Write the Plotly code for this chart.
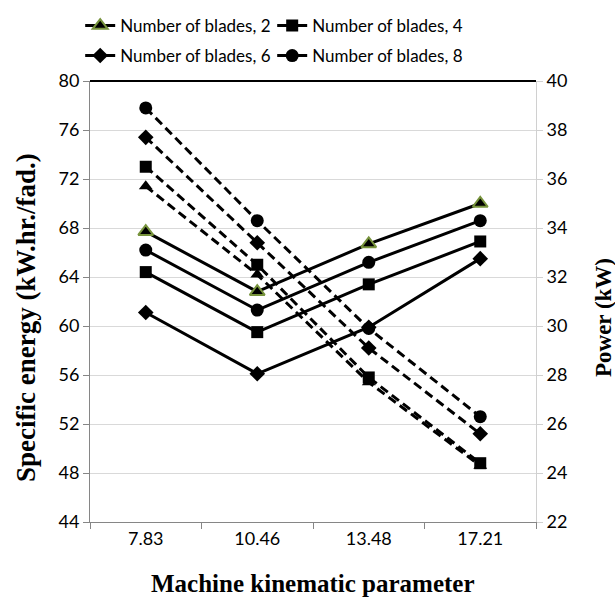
import plotly.graph_objects as go

categories = ["7.83", "10.46", "13.48", "17.21"]

# Specific energy (left axis, solid lines)
energy_b2 = [67.7, 62.8, 66.7, 70.0]
energy_b4 = [64.4, 59.5, 63.4, 66.9]
energy_b6 = [61.1, 56.1, 59.9, 65.5]
energy_b8 = [66.2, 61.3, 65.2, 68.6]

# Power (right axis, dashed lines)
power_b2 = [35.7, 32.1, 27.7, 24.3]
power_b4 = [36.5, 32.5, 27.9, 24.4]
power_b6 = [37.7, 33.4, 29.1, 25.6]
power_b8 = [38.9, 34.3, 29.9, 26.3]

names = ["Number of blades, 2", "Number of blades, 4",
         "Number of blades, 6", "Number of blades, 8"]

fig = go.Figure()

styles = [
    dict(symbol="triangle-up", size=13, line=dict(color="#77933C", width=2)),
    dict(symbol="square", size=12, line=dict(width=0)),
    dict(symbol="diamond", size=12, line=dict(width=0)),
    dict(symbol="circle", size=13, line=dict(width=0)),
]
dashed_styles = [
    dict(symbol="triangle-up", size=12, line=dict(width=0)),
    dict(symbol="square", size=12, line=dict(width=0)),
    dict(symbol="diamond", size=12, line=dict(width=0)),
    dict(symbol="circle", size=13, line=dict(width=0)),
]

energies = [energy_b2, energy_b4, energy_b6, energy_b8]
powers = [power_b2, power_b4, power_b6, power_b8]
legends = ["legend", "legend", "legend2", "legend2"]

# dashed (power) first so solid drawn on top
for i in range(4):
    fig.add_trace(go.Scatter(
        x=categories, y=powers[i], yaxis="y2", mode="lines+markers",
        line=dict(color="black", width=3, dash="9px,5px"),
        marker=dict(color="black", **dashed_styles[i]),
        showlegend=False, name=names[i]))

for i in range(4):
    fig.add_trace(go.Scatter(
        x=categories, y=energies[i], mode="lines+markers",
        line=dict(color="black", width=3),
        marker=dict(color="black", **styles[i]),
        name=names[i], legend=legends[i]))

tick_font = dict(family="Lato", size=18, color="black")
title_font = dict(family="Liberation Serif", size=25, color="black")
legend_font = dict(family="Lato", size=17, color="black")

fig.update_layout(
    width=615, height=608,
    margin=dict(l=90, r=79, t=81, b=86, autoexpand=False),
    plot_bgcolor="white", paper_bgcolor="white",
    xaxis=dict(type="category", range=[-0.5, 3.5], showgrid=False,
               showline=True, linecolor="#868686", linewidth=1,
               ticks="outside", tickson="boundaries", ticklen=6,
               tickcolor="#868686", tickfont=tick_font),
    yaxis=dict(range=[44, 80], dtick=4, showgrid=True, gridcolor="#d9d9d9",
               showline=True, linecolor="#868686", ticks="outside",
               ticklen=6, tickcolor="#868686", tickfont=tick_font,
               zeroline=False),
    yaxis2=dict(range=[22, 40], dtick=2, overlaying="y", side="right",
                showgrid=False, showline=True, linecolor="#d0d0d0",
                ticks="outside", ticklen=6, tickcolor="#d0d0d0",
                tickfont=tick_font, zeroline=False),
    legend=dict(orientation="h", x=-0.022, xanchor="left", y=(522 - 26) / 441,
                yanchor="middle", font=legend_font,
                bgcolor="rgba(0,0,0,0)", entrywidth=147, entrywidthmode="pixels",
                traceorder="normal"),
    legend2=dict(orientation="h", x=-0.022, xanchor="left", y=(522 - 56) / 441,
                 yanchor="middle", font=legend_font,
                 bgcolor="rgba(0,0,0,0)", entrywidth=147, entrywidthmode="pixels",
                 traceorder="normal"),
    shapes=[dict(type="line", xref="paper", yref="paper", x0=0, x1=1, y0=1, y1=1,
                 line=dict(color="black", width=2))],
    annotations=[
        dict(text="<b>Machine kinematic parameter</b>", xref="paper", yref="paper",
             x=0.5, y=(522 - 583) / 441, xanchor="center", yanchor="middle",
             showarrow=False, font=title_font),
        dict(text="<b>Specific energy (kW.hr./fad.)</b>", xref="paper", yref="paper",
             x=(26 - 90) / 446, y=(522 - 318) / 441, xanchor="center", yanchor="middle",
             textangle=-90, showarrow=False,
             font=dict(family="Liberation Serif", size=27, color="black")),
        dict(text="<b>Power (kW)</b>", xref="paper", yref="paper",
             x=(603 - 90) / 446, y=(522 - 318) / 441, xanchor="center", yanchor="middle",
             textangle=-90, showarrow=False,
             font=dict(family="Liberation Serif", size=23, color="black")),
    ],
)

fig.write_html("out.html", config={"displayModeBar": False},
               post_script="document.body.style.margin='0';document.body.style.padding='0';")
